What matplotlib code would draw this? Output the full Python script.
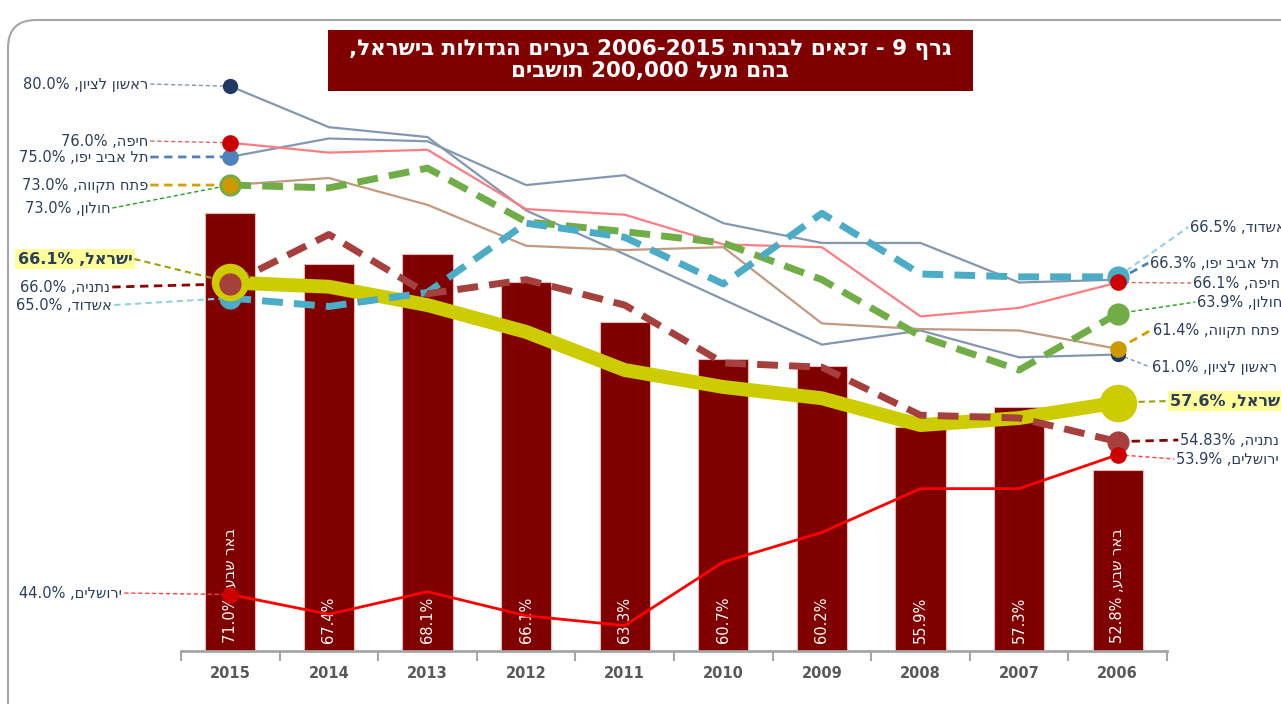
import re
import numpy as np
import matplotlib.pyplot as plt
from matplotlib.patches import FancyBboxPatch, Rectangle
from matplotlib.transforms import IdentityTransform

plt.rcParams['font.family'] = ['DejaVu Sans']


def vis(s):
    """crude bidi for an RTL line: reverse the text, keep number runs left-to-right"""
    parts = re.findall(r'\d[\d.,%\-]*\d%?|\d%?|\D+', s)
    return ''.join(p if p[0].isdigit() else p[::-1] for p in reversed(parts))


def pct(v):
    return f"{v:.2f}%" if round(v, 1) != v else f"{v:.1f}%"


# --- data ---
years = ['2015', '2014', '2013', '2012', '2011', '2010', '2009', '2008', '2007', '2006']
beersheva = [71.0, 67.4, 68.1, 66.1, 63.3, 60.7, 60.2, 55.9, 57.3, 52.8]
rishon = [80.0, 77.1, 76.4, 71.2, 68.1, 64.9, 61.7, 62.7, 60.8, 61.0]
haifa = [76.0, 75.3, 75.5, 71.3, 70.9, 68.8, 68.6, 63.7, 64.3, 66.1]
tel_aviv = [75.0, 76.3, 76.1, 73.0, 73.7, 70.3, 68.9, 68.9, 66.1, 66.3]
petah_tikva = [73.0, 73.5, 71.6, 68.7, 68.4, 68.6, 63.2, 62.8, 62.7, 61.4]
holon = [73.0, 72.8, 74.2, 70.4, 69.7, 68.9, 66.3, 62.3, 59.9, 63.9]
israel = [66.1, 65.8, 64.5, 62.6, 59.9, 58.7, 57.9, 56.0, 56.5, 57.6]
netanya = [66.0, 69.5, 65.3, 66.3, 64.5, 60.4, 60.1, 56.7, 56.5, 54.83]
ashdod = [65.0, 64.4, 65.4, 70.3, 69.3, 66.0, 71.0, 66.7, 66.5, 66.5]
jerusalem = [44.0, 42.6, 44.2, 42.5, 41.8, 46.3, 48.4, 51.5, 51.5, 53.9]

title = "גרף 9 - זכאים לבגרות 2006-2015 בערים הגדולות בישראל,\nבהם מעל 200,000 תושבים"

# figure is 1281x704 px; the axes runs from x=181..1167 px and y=651..58 px
W, H = 1281, 704
fig = plt.figure(figsize=(W / 100, H / 100), dpi=100)
ax = fig.add_axes([181 / W, (H - 651) / H, 986 / W, (651 - 58) / H])
ax.set_xlim(-0.5, 9.5)
ax.set_ylim(40, 82)


def px2x(px):
    return (px - 230) / 98.6


def py2y(py):
    return 40 + (651 - py) / 14.12


x = np.arange(len(years))

ax.bar(x, beersheva, width=0.51, color='#800000', edgecolor='#e6b9b8',
       linewidth=0.8, zorder=1)
for i, v in enumerate(beersheva):
    lab = vis(f"באר שבע, {pct(v)}") if i in (0, len(x) - 1) else pct(v)
    ax.text(i, 40.55, lab, rotation=90, ha='center', va='bottom',
            color='white', fontsize=10.5, zorder=2)

# name, values, line colour, lw, dashes, marker colour, marker size, zorders
series = [
    ('ראשון לציון', rishon, '#8497b0', 1.6, None, '#1f3864', 11, 3, 7),
    ('תל אביב יפו', tel_aviv, '#8497b0', 1.6, None, '#4f81bd', 12, 3, 7),
    ('חיפה', haifa, '#ff7c80', 1.6, None, '#cc0000', 12, 3, 8),
    ('פתח תקווה', petah_tikva, '#c19a80', 1.6, None, '#cc9900', 12, 3, 8),
    ('ישראל', israel, '#cccc00', 10, None, '#cccc00', 27, 4, 8),
    ('חולון', holon, '#70ad47', 5, (3, 1.6), '#70ad47', 16, 5, 7),
    ('אשדוד', ashdod, '#4bacc6', 5, (3, 1.6), '#4bacc6', 16, 5, 7),
    ('נתניה', netanya, '#a5403d', 5, (3, 1.6), '#a5403d', 16, 5, 9),
    ('ירושלים', jerusalem, '#ff0000', 2, None, '#cc0000', 12, 6, 9),
]

for name, vals, col, lw, dash, mcol, ms, z, mz in series:
    line, = ax.plot(x, vals, color=col, lw=lw, zorder=z, solid_capstyle='round')
    if dash:
        line.set_dashes(dash)
    ax.plot([x[0], x[-1]], [vals[0], vals[-1]], 'o', color=mcol, ms=ms,
            mec='none', zorder=mz)

# label placement in px: (left text right-end x, y), (right text start x, y),
# leader colour, leader lw
labels = {
    'ראשון לציון': ((148, 84), (1152, 367), '#8497b0', 1.0),
    'חיפה': ((148, 141), (1193, 283), '#e06666', 1.0),
    'תל אביב יפו': ((148, 157), (1150, 263), '#4f81bd', 2.0),
    'פתח תקווה': ((148, 185), (1153, 330), '#d4a000', 2.0),
    'חולון': ((110, 208), (1197, 302), '#20a020', 1.0),
    'ישראל': ((132, 259), (1170, 401), '#a0a000', 1.5),
    'נתניה': ((110, 287), (1180, 440), '#8b0000', 2.0),
    'אשדוד': ((112, 305), (1190, 227), '#92d0e6', 1.5),
    'ירושלים': ((122, 593), (1176, 459), '#ff4040', 1.0),
}
txt_col = '#2c3e5c'
for name, vals, *_ in series:
    (lx, ly), (rx, ry), lcol, llw = labels[name]
    big = name == 'ישראל'
    kw = dict(fontsize=11.5 if big else 10.5, color=txt_col, va='center',
              fontweight='bold' if big else 'normal')
    if big:
        kw['bbox'] = dict(boxstyle='square,pad=0.15', fc='#ffff99', ec='none')
    # left side (2015)
    ax.plot([px2x(lx + 2), 0], [py2y(ly), vals[0]], color=lcol, lw=llw,
            ls=(0, (3, 2)), clip_on=False, zorder=6)
    ax.text(px2x(lx), py2y(ly), vis(f"{name}, {pct(vals[0])}"), ha='right', **kw)
    # right side (2006)
    ax.plot([x[-1], px2x(rx - 2)], [vals[-1], py2y(ry)], color=lcol, lw=llw,
            ls=(0, (3, 2)), clip_on=False, zorder=6)
    ax.text(px2x(rx), py2y(ry), vis(f"{name}, {pct(vals[-1])}"), ha='left', **kw)

# axis styling
for s in ('left', 'right', 'top'):
    ax.spines[s].set_visible(False)
ax.spines['bottom'].set_color('#a6a6a6')
ax.spines['bottom'].set_linewidth(2)
ax.set_yticks([])
ax.set_xticks(x)
ax.set_xticklabels(years, fontweight='bold', fontsize=10.5, color='#595959')
ax.tick_params(axis='x', which='major', length=0, pad=11)
ax.set_xticks(np.arange(-0.5, 10, 1), minor=True)
ax.tick_params(axis='x', which='minor', length=7, width=1.5, color='#a6a6a6')
ax.patch.set_visible(False)

# rounded outer frame and title box
frame = FancyBboxPatch((8, -60), 1400, H - 10 + 60 - 10,
                       boxstyle='round,pad=0,rounding_size=28',
                       transform=IdentityTransform(), fc='none',
                       ec='#a6a6a6', lw=1.5)
fig.add_artist(frame)
fig.add_artist(Rectangle((328 / W, (H - 91) / H), 645 / W, 61 / H,
                         transform=fig.transFigure, fc='#800000', ec='none'))
fig.text(650 / W, (H - 60) / H, '\n'.join(vis(l) for l in title.split('\n')),
         ha='center', va='center', color='white', fontweight='bold',
         fontsize=15.5, linespacing=1.05)

plt.savefig('out.png', dpi=100)
